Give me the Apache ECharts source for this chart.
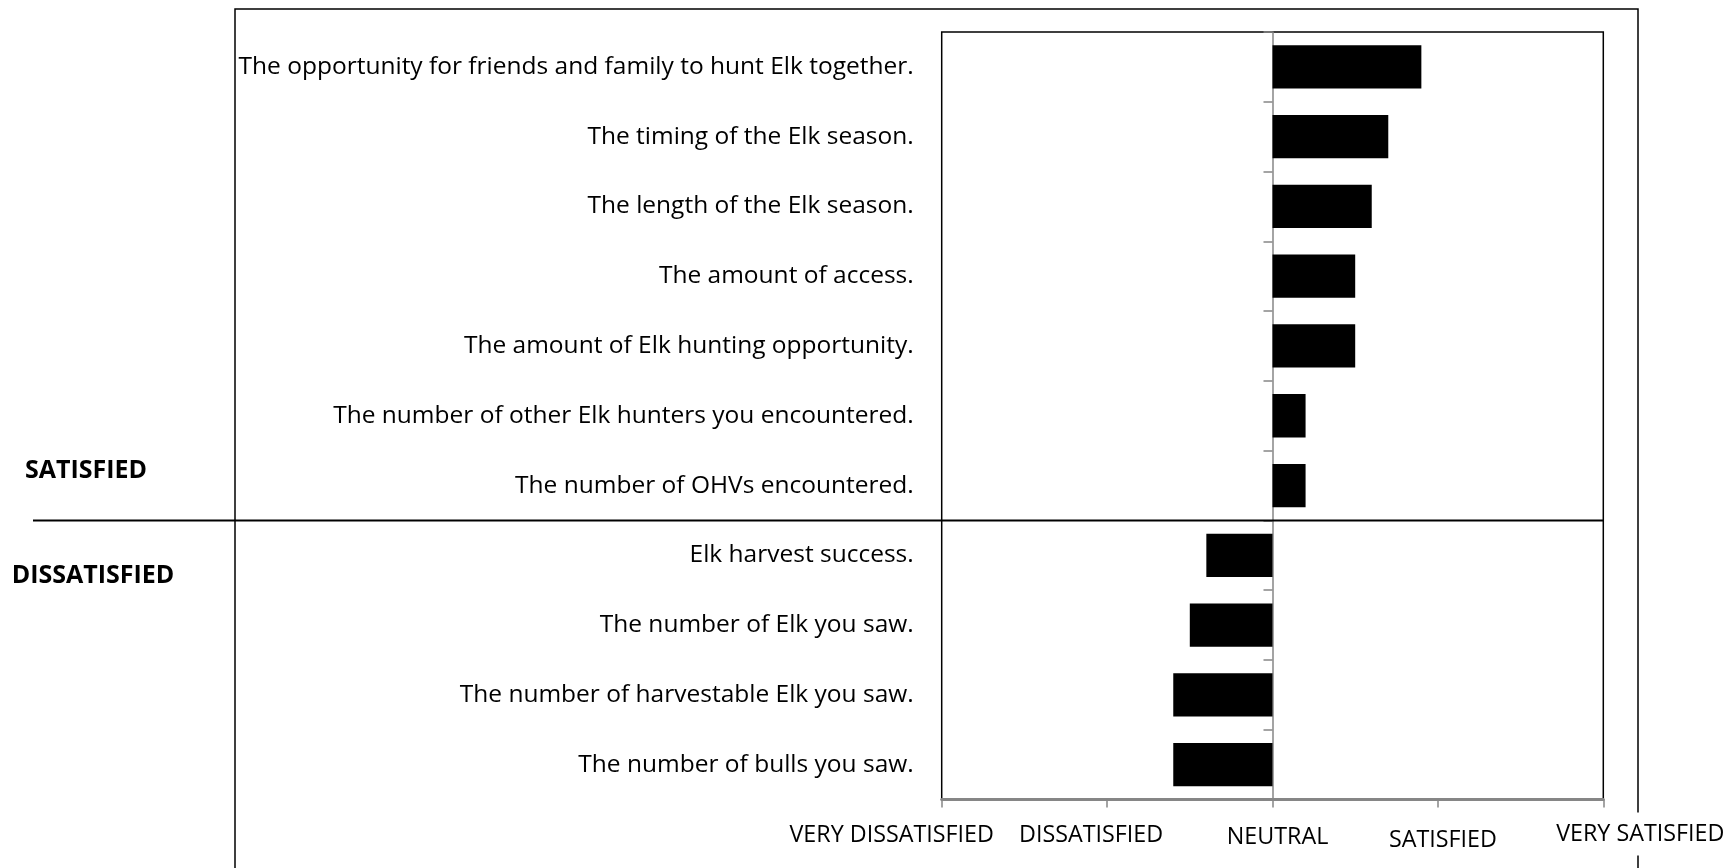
<!DOCTYPE html>
<html>
<head>
<meta charset="utf-8">
<title>Elk hunting satisfaction</title>
<script src="https://cdn.jsdelivr.net/npm/echarts@6/dist/echarts.min.js"></script>
<style>
  html, body { margin: 0; padding: 0; background: #fff; }
  #chart { width: 1729px; height: 868px; }
</style>
</head>
<body>
<div id="chart"></div>
<script>
// Survey items, top to bottom
const categories = [
  'The opportunity for friends and family to hunt Elk together.',
  'The timing of the Elk season.',
  'The length of the Elk season.',
  'The amount of access.',
  'The amount of Elk hunting opportunity.',
  'The number of other Elk hunters you encountered.',
  'The number of OHVs encountered.',
  'Elk harvest success.',
  'The number of Elk you saw.',
  'The number of harvestable Elk you saw.',
  'The number of bulls you saw.'
];

// Mean satisfaction score (-2 very dissatisfied ... +2 very satisfied)
const scores = [0.9, 0.7, 0.6, 0.5, 0.5, 0.2, 0.2, -0.4, -0.5, -0.6, -0.6];

// Scale points along the horizontal axis and their names
const scaleTicks = [-2, -1, 0, 1, 2];
const scaleLabels = ['VERY DISSATISFIED', 'DISSATISFIED', 'NEUTRAL', 'SATISFIED', 'VERY SATISFIED'];

// Group headings on the left
const groupLabels = ['SATISFIED', 'DISSATISFIED'];
const satisfiedCount = 7;

// Layout of the plot box
const GRID = { left: 941.7, top: 32, width: 661.6, height: 767.5 };
const AXIS_GRAY = '#868686';
const FONT = 'Open Sans';

// Horizontal nudges / vertical drops of the scale names relative to their ticks
const scaleLabelShift = [[-50, 35.5], [-16, 35.5], [5, 37.5], [5, 40.5], [37, 34.5]];
// Group heading centres
const groupLabelPos = [[86, 471], [93, 576]];

const chart = echarts.init(document.getElementById('chart'), null, { renderer: 'canvas' });

chart.setOption({
  animation: false,
  backgroundColor: '#fff',
  grid: {
    left: GRID.left, top: GRID.top, width: GRID.width, height: GRID.height,
    containLabel: false,
    outerBoundsMode: 'none',
    show: true, borderColor: '#000', borderWidth: 1.5, backgroundColor: 'transparent'
  },
  xAxis: {
    type: 'value',
    min: scaleTicks[0],
    max: scaleTicks[scaleTicks.length - 1],
    interval: 1,
    axisLine: { show: true, onZero: false, lineStyle: { color: AXIS_GRAY, width: 3 } },
    axisTick: { show: true, length: 8, lineStyle: { color: AXIS_GRAY, width: 1.5 } },
    axisLabel: { show: false },
    splitLine: { show: false }
  },
  yAxis: {
    type: 'category',
    inverse: true,
    data: categories,
    axisLine: { show: true, onZero: true, lineStyle: { color: AXIS_GRAY, width: 1.5 } },
    axisTick: { show: true, length: 9, lineStyle: { color: AXIS_GRAY, width: 1.5 } },
    axisLabel: {
      margin: 28,
      color: '#000',
      fontFamily: FONT,
      fontSize: 24.5
    },
    splitLine: { show: false }
  },
  series: [{
    type: 'bar',
    data: scores,
    barCategoryGap: '38%',
    itemStyle: { color: '#000' },
    z: 1
  }]
});

// Decorations placed from the chart's own coordinate system
const rightEdge = GRID.left + GRID.width;
const yA = chart.convertToPixel({ yAxisIndex: 0 }, categories[satisfiedCount - 1]);
const yB = chart.convertToPixel({ yAxisIndex: 0 }, categories[satisfiedCount]);
const splitY = (yA + yB) / 2;
const axisY = GRID.top + GRID.height;

const graphics = [
  {
    type: 'rect', z: 0, silent: true,
    shape: { x: 235, y: 9, width: 1638 - 235, height: 1000 },
    style: { fill: 'none', stroke: '#000', lineWidth: 1.5 }
  },
  {
    type: 'line', z: 10, silent: true,
    shape: { x1: 33, y1: splitY, x2: rightEdge, y2: splitY },
    style: { stroke: '#000', lineWidth: 2 }
  }
];

scaleTicks.forEach((v, i) => {
  const x = chart.convertToPixel({ xAxisIndex: 0 }, v);
  graphics.push({
    type: 'text', z: 20, silent: true,
    x: x + scaleLabelShift[i][0],
    y: axisY + scaleLabelShift[i][1],
    style: {
      text: scaleLabels[i],
      fontFamily: FONT, fontSize: 23.3, fill: '#000',
      align: 'center', verticalAlign: 'middle',
      backgroundColor: '#fff', padding: [10, 2]
    }
  });
});

groupLabels.forEach((t, i) => {
  graphics.push({
    type: 'text', z: 20, silent: true,
    x: groupLabelPos[i][0], y: groupLabelPos[i][1],
    style: {
      text: t, fontFamily: FONT, fontSize: 25, fontWeight: 'bold', fill: '#000',
      align: 'center', verticalAlign: 'middle'
    }
  });
});

chart.setOption({ graphic: graphics });
</script>
</body>
</html>
